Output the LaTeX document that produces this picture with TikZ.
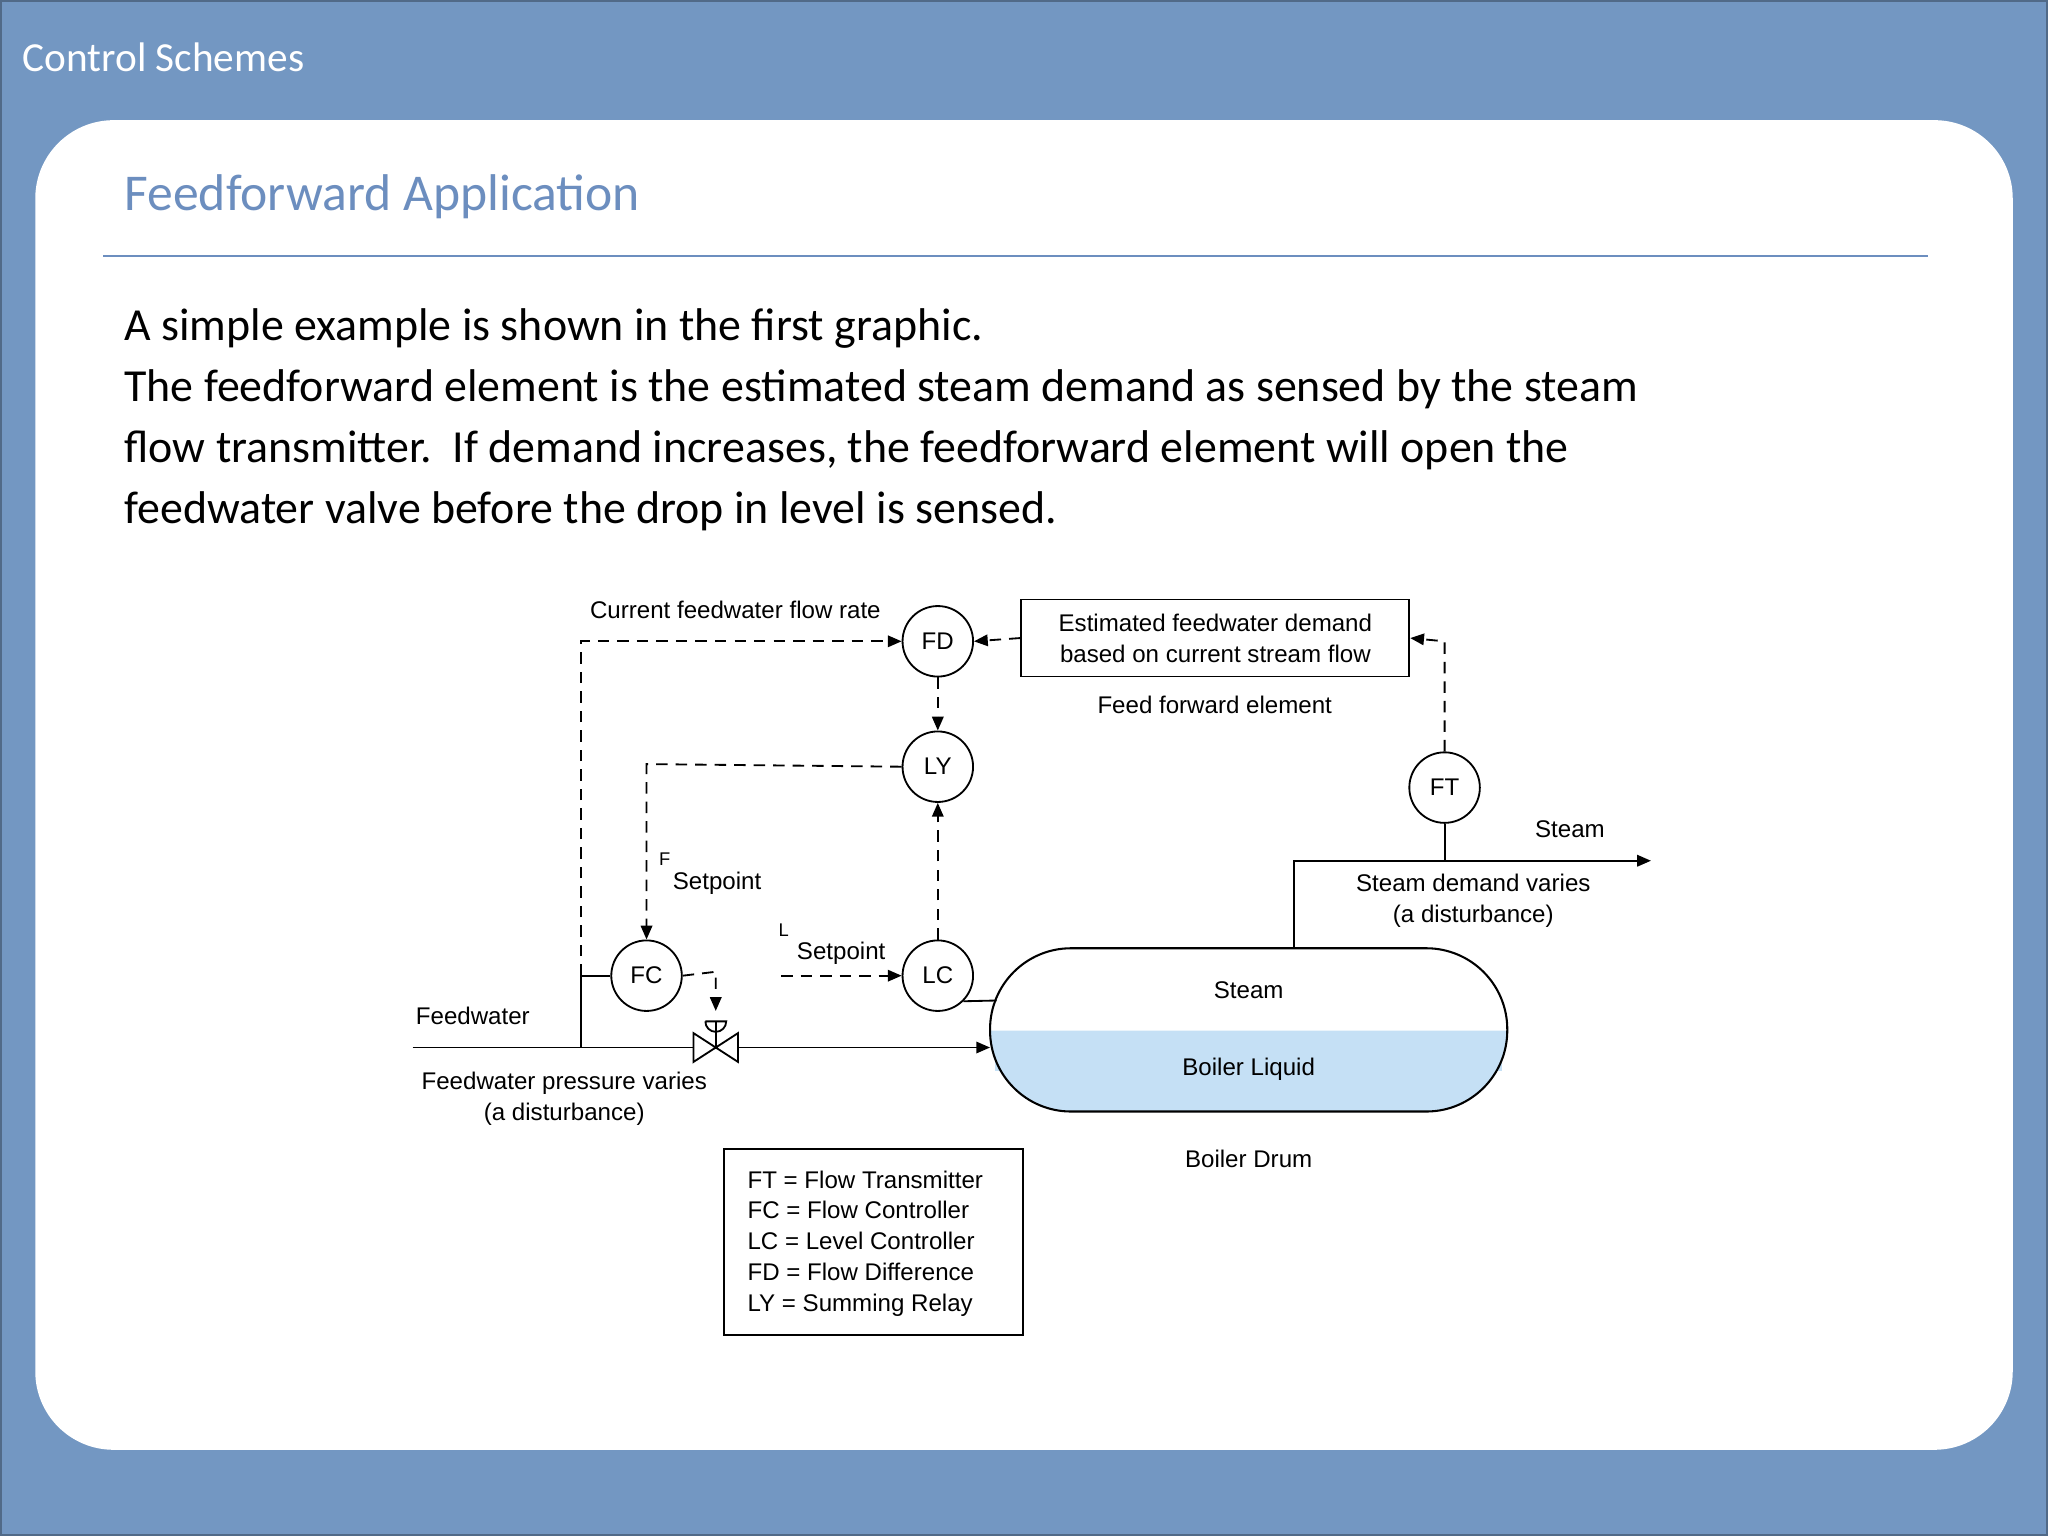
\documentclass[tikz,border=0pt]{standalone}
\usepackage{fontspec}
\setmainfont{Carlito}
\newfontfamily\arial{Liberation Sans}
\usetikzlibrary{arrows.meta}
\definecolor{bgblue}{HTML}{7397C2}
\definecolor{ttl}{HTML}{6C8EBF}
\definecolor{liq}{HTML}{C5E0F5}
\begin{document}
\begin{tikzpicture}[x=0.02cm,y=-0.02cm,
  inst/.style={draw,circle,minimum size=54*0.02cm,inner sep=0pt,font=\arial\fontsize{10.5}{12}\selectfont,line width=0.8pt},
  lbl/.style={font=\arial\fontsize{10.5}{13.5}\selectfont,align=center,inner sep=0pt},
  sig/.style={dashed,dash pattern=on 5pt off 3.5pt,line width=0.8pt},
  pipe/.style={line width=0.8pt},
  arr/.style={-{Triangle[length=6pt,width=5pt]}}]
\fill[bgblue] (0,0) rectangle (1568,1176);
\draw[bgblue!70!black,line width=1pt] (1,1) rectangle (1567,1175);
\fill[white,rounded corners=1.2cm] (27,92) rectangle (1541,1110);
\node[anchor=west,white,font=\fontsize{18}{20}\selectfont,inner sep=0pt] (hdr) at (17,44) {Control Schemes};
\node[anchor=west,ttl,font=\fontsize{22.5}{25}\selectfont,inner sep=0pt] (ttlnode) at (95,151) {Feedforward Application};
\draw[ttl,line width=0.8pt] (79,196) -- (1476,196);
\node[anchor=north west,font=\fontsize{20}{26.6}\selectfont,align=left,inner sep=0pt] (body) at (95,236) {A simple example is shown in the first graphic.\\The feedforward element is the estimated steam demand as sensed by the steam\\flow transmitter.\ \ If demand increases, the feedforward element will open the\\feedwater valve before the drop in level is sensed.};
% instruments
\node[inst] (FD) at (718,491) {FD};
\node[inst] (LY) at (718,587) {LY};
\node[inst] (FT) at (1106,603) {FT};
\node[inst] (FC) at (495,747) {FC};
\node[inst] (LC) at (718,747) {LC};
\node[draw,line width=0.8pt,minimum width=297*0.02cm,minimum height=59*0.02cm,lbl] (est) at (930.5,488.5) {Estimated feedwater demand\\based on current stream flow};
\node[lbl] (ffe) at (930,540) {Feed forward element};
\node[lbl] (cfr) at (563,467) {Current feedwater flow rate};
% drum
\fill[liq] (758,789) -- (1154,789) -- (1154,789) arc[start angle=0,end angle=-90,x radius=62,y radius=-62] -- (820,851) arc[start angle=-90,end angle=-180,x radius=62,y radius=-62] -- cycle;
\fill[liq] (762,789) rectangle (1150,820);
\draw[line width=0.9pt,rounded corners=62*0.02cm] (758,726) rectangle (1154,851);
\coordinate (drumtop) at (991,726);
\coordinate (drumin) at (758,802);
\node[lbl] (dsteam) at (956,758) {Steam};
\node[lbl] (bliq) at (956,819) {Boiler Liquid};
\node[lbl] (bdrum) at (956,887) {Boiler Drum};
% valve
\coordinate (V) at (548,802);
\draw[pipe,fill=white] (531,791) -- (565,813) -- (565,791) -- (531,813) -- cycle;
\draw[pipe] (V) -- (548,782);
\draw[pipe] (540,782) -- (556,782) arc[start angle=0,end angle=180,radius=8] ;
\coordinate (act) at (548,774);
% pipes
\coordinate (fwin) at (316,802);
\coordinate (tap) at (445,802);
\coordinate (tapu) at (445,747);
\draw[pipe] (fwin) -- (531,802);
\draw[pipe,arr] (565,802) -- (drumin);
\draw[pipe] (tap) -- (tapu) -- (FC.west);
\draw[pipe] (LC.south east) -- (763,766);
\coordinate (stc) at (991,659);
\coordinate (stout) at (1264,659);
\draw[pipe,arr] (drumtop) -- (stc) -- (stout);
\draw[pipe] (FT.south) -- (1106,659);
% signals
\draw[sig,arr] (445,747) -- (445,491) -- (FD.west);
\draw[sig,arr] (est.west) -- (FD.east);
\draw[sig,arr] (FT.north) -- (1106,491) -- (est.east);
\draw[sig,arr] (FD.south) -- (LY.north);
\draw[sig,arr] (LY.west) -- (495,585) -- (FC.north);
\draw[sig,arr] (LC.north) -- (LY.south);
\coordinate (lsp) at (598,747);
\draw[sig,arr] (lsp) -- (LC.west);
\draw[sig,arr] (FC.east) -- (548,744) -- (act);
% labels
\node[lbl,font=\arial\fontsize{8}{9}\selectfont] (fl) at (509,658) {F};
\node[lbl] (fsp) at (549,676) {Setpoint};
\node[lbl,font=\arial\fontsize{8}{9}\selectfont] (ll) at (600,712) {L};
\node[lbl] (lspt) at (644,730) {Setpoint};
\node[lbl] (fw) at (362,778) {Feedwater};
\node[lbl] (fwp) at (432,841) {Feedwater pressure varies\\(a disturbance)};
\node[lbl] (stm) at (1202,635) {Steam};
\node[lbl] (sdv) at (1128,690) {Steam demand varies\\(a disturbance)};
\node[draw,line width=0.8pt,minimum width=229*0.02cm,minimum height=142*0.02cm] (leg) at (668.5,951) {};
\node[lbl,align=left,anchor=north west,font=\arial\fontsize{10.5}{13.4}\selectfont] (legt) at (572,896) {FT = Flow Transmitter\\FC = Flow Controller\\LC = Level Controller\\FD = Flow Difference\\LY = Summing Relay};
\end{tikzpicture}
\end{document}
